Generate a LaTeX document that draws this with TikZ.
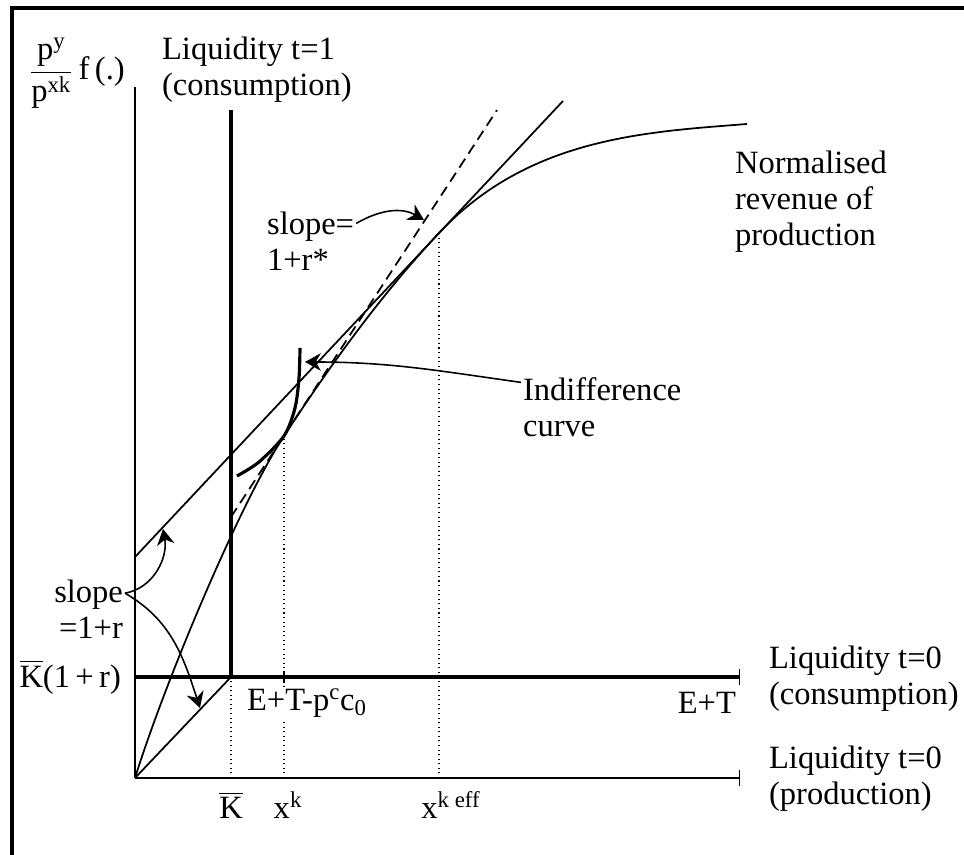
\documentclass[tikz,border=0pt]{standalone}
\usepackage{amsmath}
\usepackage{fontspec}
\setmainfont{Liberation Serif}
\usetikzlibrary{arrows.meta,positioning,calc}

\begin{document}
\begin{tikzpicture}[x=2cm, y=2cm,
    font=\fontsize{18.5}{20.5}\selectfont,
    axis/.style={line width=1pt},
    heavy/.style={line width=2pt},
    guide/.style={dotted, line width=0.6pt},
    tick/.style={-{Bar[width=9pt, line width=0.8pt]}},
    pointer/.style={-{Stealth[length=9pt, width=10pt]}, line width=0.9pt},
    lbl/.style={inner sep=1pt, align=left}
  ]
  \useasboundingbox (-1.35,-0.77) rectangle (8.29,7.78);
  % frame
  \draw[line width=2.2pt] (-1.23,-0.9) -- (-1.23,7.70) -- (8.4,7.70);

  % key points
  \coordinate (O) at (0,0);
  \coordinate (Kb) at (0.96,1.01);
  \coordinate (A) at (1.49,3.42);
  \coordinate (B) at (3.04,5.45);

  % axes
  \draw[axis] (O) -- (0,6.91);
  \draw[axis, tick] (O) -- (6.05,0);
  \draw[heavy, tick] (0,1.01) -- (6.05,1.01);
  \draw[heavy] (Kb) -- (0.96,6.68);

  % dotted guides
  \draw[guide] (0.96,0) -- (Kb);
  \draw[guide] (1.49,0) -- (A);
  \draw[guide] (3.04,0) -- (B);
  \draw[axis] (1.49,0.95) -- (1.49,1.07);

  % budget lines
  \draw[axis] (O) -- (Kb);
  \draw[axis] (0,2.21) -- (4.28,6.77);
  \draw[axis, dash pattern=on 6pt off 3.5pt] (0.96,2.61) -- (3.62,6.68);

  % revenue of production
  \draw[axis] (O) .. controls (0.3,0.96) and (1.04,2.73) .. (A)
    .. controls (1.99,4.185) and (2.49,4.863) .. (B)
    .. controls (3.94,6.41) and (5.12,6.46) .. (6.12,6.54);

  % indifference curve
  \draw[line width=1.8pt] plot[smooth] coordinates
    {(1.02,3.02) (1.24,3.16) (1.49,3.42) (1.60,3.70) (1.64,4.0) (1.65,4.30)};

  % labels
  \node (fy) at (-0.58,7.05)
    {$\displaystyle\frac{\text{p}^{\text{y}}}{\text{p}^{\text{xk}}}$\,f\,(.)};
  \node[lbl, anchor=west] (liq1) at (0.25,7.08) {Liquidity t=1\\(consumption)};
  \node[lbl, anchor=west] (rev) at (5.98,5.76) {Normalised\\revenue of\\production};
  \node[lbl, anchor=west] (slopeS) at (1.30,5.37) {slope=\\1+r*};
  \node[lbl, anchor=west] (ind) at (3.86,3.71) {Indifference\\curve};
  \node[lbl, anchor=east, align=right] (slopeR) at (-0.10,1.69) {slope\\=1+r};
  \node[lbl, anchor=east] (kr) at (-0.12,1.01) {$\overline{\text{K}}$(1\,+\,r)};
  \node[lbl, anchor=west, fill=white] (etp) at (1.10,0.75)
    {E+T-p\textsuperscript{c}c\textsubscript{0}};
  \node[lbl, anchor=east] (et) at (6.03,0.75) {E+T};
  \node[lbl, anchor=west] (liqc) at (6.32,0.99) {Liquidity t=0\\(consumption)};
  \node[lbl, anchor=west] (liqp) at (6.32,-0.01) {Liquidity t=0\\(production)};
  \node (kbar) at (0.96,-0.27) {$\overline{\text{K}}$};
  \node (xk) at (1.53,-0.27) {x\textsuperscript{k}};
  \node (xkeff) at (3.16,-0.27) {x\textsuperscript{k eff}};

  % pointers
  \coordinate (stip) at (2.89,5.58);
  \coordinate (ictip) at (1.70,4.16);
  \coordinate (rtip1) at (0.28,2.49);
  \coordinate (rtip2) at (0.65,0.70);
  \draw[pointer] ([yshift=10pt]slopeS.east) to[out=30, in=150] (stip);
  \draw[pointer] ([yshift=14pt]ind.west) to[out=172, in=0] (ictip);
  \draw[pointer] ([yshift=9pt]slopeR.east) to[out=10, in=-80] (rtip1);
  \draw[pointer] ([yshift=9pt]slopeR.east) to[out=-30, in=108] (rtip2);
\end{tikzpicture}
\end{document}
